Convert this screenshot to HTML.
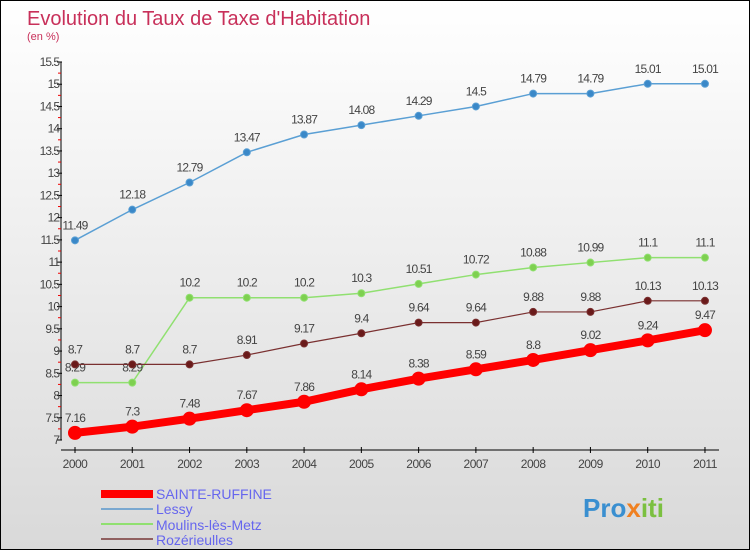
<!DOCTYPE html>
<html><head><meta charset="utf-8"><style>
html,body{margin:0;padding:0}
body{width:750px;height:550px;overflow:hidden;font-family:"Liberation Sans",sans-serif}
#wrap{position:relative;width:748px;height:548px;border:1px solid #000;background:linear-gradient(#fff,#d9d9d9)}
</style></head><body>
<div id="wrap">
<svg id="chart" width="748" height="548" viewBox="0 0 748 548">
<text x="26" y="24" font-size="20" fill="#c8305a">Evolution du Taux de Taxe d'Habitation</text>
<text x="26" y="39" font-size="11" fill="#c8305a">(en %)</text>
<g id="axes"></g><g id="series"></g>
<g>
<rect x="100" y="489" width="52" height="8" fill="#f00"/>
<text x="155" y="498" font-size="14" fill="#6666ee">SAINTE-RUFFINE</text>
<rect x="100" y="507" width="52" height="2" fill="#7aa8d0"/>
<text x="155" y="513" font-size="14" fill="#6666ee">Lessy</text>
<rect x="100" y="522" width="52" height="2" fill="#90e070"/>
<text x="155" y="529" font-size="14" fill="#6666ee">Moulins-lès-Metz</text>
<rect x="100" y="537" width="52" height="2" fill="#906060"/>
<text x="155" y="544" font-size="14" fill="#6666ee">Rozérieulles</text>
</g>
<text x="582" y="516" font-size="26" font-weight="bold" fill="#3a8fd0">Pro<tspan fill="#f08020">x</tspan><tspan fill="#7bc040">iti</tspan></text>
</svg></div>
<script>
const years=["2000","2001","2002","2003","2004","2005","2006","2007","2008","2009","2010","2011"];
const sainteRuffine=[7.16,7.3,7.48,7.67,7.86,8.14,8.38,8.59,8.8,9.02,9.24,9.47];
const lessy=[11.49,12.18,12.79,13.47,13.87,14.08,14.29,14.5,14.79,14.79,15.01,15.01];
const moulins=[8.29,8.29,10.2,10.2,10.2,10.3,10.51,10.72,10.88,10.99,11.1,11.1];
const rozerieulles=[8.7,8.7,8.7,8.91,9.17,9.4,9.64,9.64,9.88,9.88,10.13,10.13];
const yTicks=[7,7.5,8,8.5,9,9.5,10,10.5,11,11.5,12,12.5,13,13.5,14,14.5,15,15.5];
const NS="http://www.w3.org/2000/svg";
const X=i=>74+i*57.27, Y=v=>439-(v-7)*(378/8.5);
function mk(t,a,p){const e=document.createElementNS(NS,t);for(const k in a)e.setAttribute(k,a[k]);p.appendChild(e);return e;}
const ax=document.getElementById('axes');
const yl=mk('line',{x1:60,y1:Y(15.5),x2:60,y2:Y(7),stroke:'#000'},ax);


const xl=mk('line',{x1:60,y1:449,x2:718,y2:449,stroke:'#000'},ax);


yTicks.forEach((v,i)=>{
 mk('line',{x1:56,x2:61,y1:Y(v),y2:Y(v),stroke:'#000'},ax);
 if(i<yTicks.length-1)mk('line',{x1:57,x2:60,y1:Y(v+0.25),y2:Y(v+0.25),stroke:'#e00'},ax);
 const t=mk('text',{x:58,y:Y(v)+4,'font-size':12,'text-anchor':'end',fill:'#444','letter-spacing':'-1'},ax);
 
 
 t.textContent=String(v);
});
years.forEach((y,i)=>{
 mk('line',{x1:X(i),x2:X(i),y1:446,y2:452,stroke:'#000'},ax);
 const t=mk('text',{x:X(i),y:467,'font-size':12,'text-anchor':'middle',fill:'#444','letter-spacing':'-0.5'},ax);
 
 
 t.textContent=y;
});
const sg=document.getElementById('series');
function draw(name,data,color,w,r,fill){
 const g=mk('g',{},sg);
 
 
 mk('polyline',{points:data.map((v,i)=>X(i)+','+Y(v)).join(' '),fill:'none',stroke:color,'stroke-width':w},g);
 data.forEach((v,i)=>{
  const c=mk('circle',{cx:X(i),cy:Y(v),r:r,fill:fill,stroke:color,'stroke-width':1},g);
  
  
  const t=mk('text',{x:X(i),y:Y(v)-11,'font-size':12,'text-anchor':'middle',fill:'#444','letter-spacing':'-0.8'},g);
  
  
  t.textContent=String(v);
 });
}
draw('lessy',lessy,'#5a9fd4',1.5,3.5,'#3a88c8');
draw('moulins',moulins,'#90e070',1.5,3.5,'#7ed050');
draw('rozerieulles',rozerieulles,'#7a3030',1.2,3.5,'#6a1a1a');
draw('sainte-ruffine',sainteRuffine,'#f00',8,6.5,'#f00');
</script>
</body></html>
